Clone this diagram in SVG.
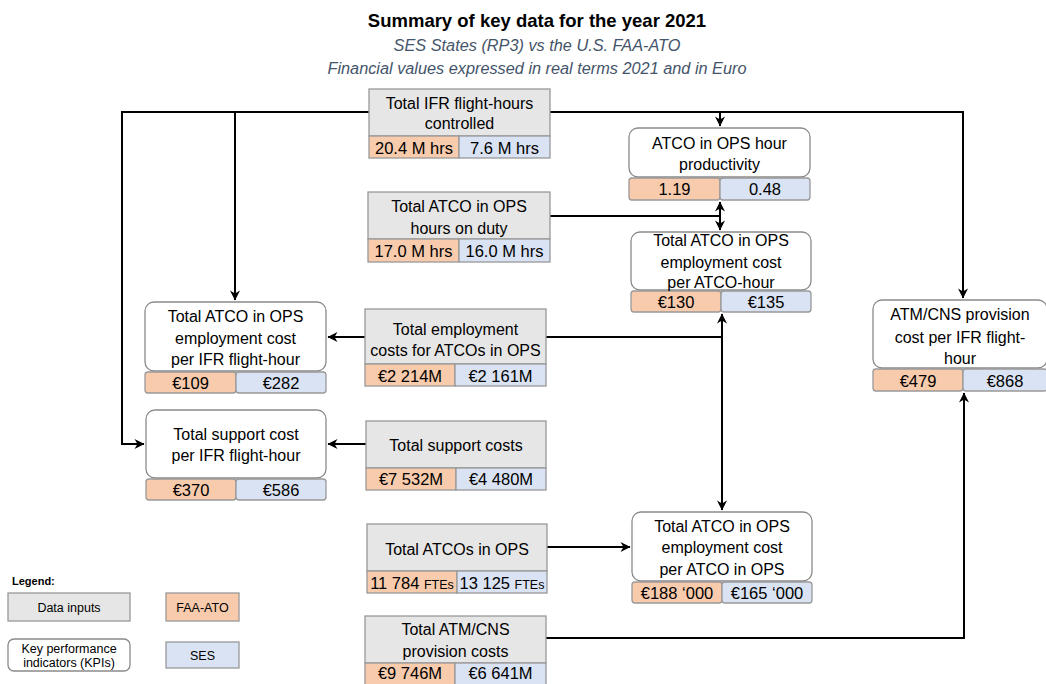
<svg xmlns="http://www.w3.org/2000/svg" width="1046" height="684" viewBox="0 0 1046 684">
<style>
.din{fill:#E7E6E6;stroke:#999;stroke-width:1.3}
.faa{fill:#F8CBAD;stroke:#999;stroke-width:1.3}
.ses{fill:#DAE3F3;stroke:#999;stroke-width:1.3}
.kpi{fill:#fff;stroke:#8a8a8a;stroke-width:1.3}
.t{font-family:"Liberation Sans",Arial,sans-serif;font-size:16px;text-anchor:middle;fill:#000}
.v{font-size:16.5px}
.s{font-size:12.5px}
.lg{font-family:"Liberation Sans",Arial,sans-serif;font-size:12.5px;text-anchor:middle;fill:#000}
.title{font-family:"Liberation Sans",Arial,sans-serif;font-size:18.5px;font-weight:bold;text-anchor:middle;fill:#000}
.sub{font-family:"Liberation Sans",Arial,sans-serif;font-size:16.3px;font-style:italic;text-anchor:middle;fill:#44546A}
.ln{fill:none;stroke:#000;stroke-width:2}
.arr{marker-end:url(#ah)}
</style>
<defs>
<marker id="ah" viewBox="0 0 10 10" refX="9.5" refY="5" markerUnits="userSpaceOnUse" markerWidth="11" markerHeight="10" orient="auto">
<path d="M0,0 L10,5 L0,10 L3,5 z" fill="#000"/>
</marker>
</defs>
<rect width="1046" height="684" fill="#fff"/>
<g id="title">
<text class="title" x="537" y="27">Summary of key data for the year 2021</text>
<text class="sub" x="537" y="51">SES States (RP3) vs the U.S. FAA-ATO</text>
<text class="sub" x="537" y="74">Financial values expressed in real terms 2021 and in Euro</text>
</g>
<g id="connectors">
<path class="ln arr" d="M369,112 H122 V444 H144"/>
<path class="ln arr" d="M235,112 V300"/>
<path class="ln arr" d="M550,112 H963 V298"/>
<path class="ln arr" d="M720,112 V126"/>
<path class="ln arr" d="M550,216 H720 V202"/>
<path class="ln arr" d="M720,216 V230"/>
<path class="ln arr" d="M365,337 H328"/>
<path class="ln arr" d="M546,337 H722 V314"/>
<path class="ln arr" d="M722,337 V510"/>
<path class="ln arr" d="M366,444 H328"/>
<path class="ln arr" d="M547,547 H630"/>
<path class="ln arr" d="M546,638 H964 V393"/>
</g>
<g id="n-ifr-hours">
<rect class="din" x="369" y="89" width="181" height="47"/>
<rect class="faa" x="369" y="136" width="90" height="22"/>
<rect class="ses" x="459" y="136" width="91" height="22"/>
<text class="t" x="459.5" y="108.5">Total IFR flight-hours</text>
<text class="t" x="459.5" y="128.5">controlled</text>
<text class="t v" x="414" y="153.5">20.4 M hrs</text>
<text class="t v" x="504.5" y="153.5">7.6 M hrs</text>
</g>
<g id="n-atco-hours">
<rect class="din" x="368" y="192" width="182" height="47"/>
<rect class="faa" x="368" y="239" width="91" height="23"/>
<rect class="ses" x="459" y="239" width="91" height="23"/>
<text class="t" x="459" y="211.5">Total ATCO in OPS</text>
<text class="t" x="459" y="233.5">hours on duty</text>
<text class="t v" x="413.5" y="256.5">17.0 M hrs</text>
<text class="t v" x="504.5" y="256.5">16.0 M hrs</text>
</g>
<g id="n-emp-costs">
<rect class="din" x="365" y="309" width="181" height="55"/>
<rect class="faa" x="365" y="364" width="90" height="22"/>
<rect class="ses" x="455" y="364" width="91" height="22"/>
<text class="t" x="455.5" y="334.5">Total employment</text>
<text class="t" x="455.5" y="355.5">costs for ATCOs in OPS</text>
<text class="t v" x="410" y="381.5">€2 214M</text>
<text class="t v" x="500.5" y="381.5">€2 161M</text>
</g>
<g id="n-support-costs">
<rect class="din" x="366" y="421" width="180" height="47"/>
<rect class="faa" x="366" y="468" width="90" height="22"/>
<rect class="ses" x="456" y="468" width="90" height="22"/>
<text class="t" x="456" y="450.5">Total support costs</text>
<text class="t v" x="411" y="485">€7 532M</text>
<text class="t v" x="501" y="485">€4 480M</text>
</g>
<g id="n-atcos">
<rect class="din" x="367" y="524" width="180" height="47"/>
<rect class="faa" x="367" y="571" width="90" height="22"/>
<rect class="ses" x="457" y="571" width="90" height="22"/>
<text class="t" x="457" y="554.5">Total ATCOs in OPS</text>
<text class="t v" x="412" y="588.5">11 784 <tspan class="s">FTEs</tspan></text>
<text class="t v" x="502" y="588.5">13 125 <tspan class="s">FTEs</tspan></text>
</g>
<g id="n-atm-costs">
<rect class="din" x="365" y="616" width="181" height="47"/>
<rect class="faa" x="365" y="663" width="90" height="22"/>
<rect class="ses" x="455" y="663" width="91" height="22"/>
<text class="t" x="455.5" y="634.5">Total ATM/CNS</text>
<text class="t" x="455.5" y="656.5">provision costs</text>
<text class="t v" x="410" y="679">€9 746M</text>
<text class="t v" x="500.5" y="679">€6 641M</text>
</g>
<g id="k-productivity">
<rect class="kpi" x="629" y="128" width="181" height="49" rx="9"/>
<rect class="faa" x="629" y="178" width="91" height="22" rx="3"/>
<rect class="ses" x="720" y="178" width="90" height="22" rx="3"/>
<text class="t" x="719.5" y="148.5">ATCO in OPS hour</text>
<text class="t" x="719.5" y="169.5">productivity</text>
<text class="t v" x="674.5" y="195">1.19</text>
<text class="t v" x="765" y="195">0.48</text>
</g>
<g id="k-cost-per-atco-hour">
<rect class="kpi" x="631" y="232" width="180" height="58" rx="9"/>
<rect class="faa" x="631" y="291" width="90" height="21" rx="3"/>
<rect class="ses" x="721" y="291" width="90" height="21" rx="3"/>
<text class="t" x="721" y="245.5">Total ATCO in OPS</text>
<text class="t" x="721" y="267.5">employment cost</text>
<text class="t" x="721" y="287.5">per ATCO-hour</text>
<text class="t v" x="676" y="308">€130</text>
<text class="t v" x="766" y="308">€135</text>
</g>
<g id="k-emp-cost-per-ifr">
<rect class="kpi" x="145" y="302" width="181" height="69" rx="9"/>
<rect class="faa" x="145" y="372" width="91" height="21" rx="3"/>
<rect class="ses" x="236" y="372" width="90" height="21" rx="3"/>
<text class="t" x="235.5" y="321.5">Total ATCO in OPS</text>
<text class="t" x="235.5" y="343.5">employment cost</text>
<text class="t" x="235.5" y="364.5">per IFR flight-hour</text>
<text class="t v" x="190.5" y="389">€109</text>
<text class="t v" x="281" y="389">€282</text>
</g>
<g id="k-support-per-ifr">
<rect class="kpi" x="146" y="410" width="180" height="68" rx="9"/>
<rect class="faa" x="146" y="479" width="90" height="21" rx="3"/>
<rect class="ses" x="236" y="479" width="90" height="21" rx="3"/>
<text class="t" x="236" y="439.5">Total support cost</text>
<text class="t" x="236" y="460.5">per IFR flight-hour</text>
<text class="t v" x="191" y="496">€370</text>
<text class="t v" x="281" y="496">€586</text>
</g>
<g id="k-cost-per-atco">
<rect class="kpi" x="632" y="512" width="180" height="69" rx="9"/>
<rect class="faa" x="632" y="582" width="90" height="21" rx="3"/>
<rect class="ses" x="722" y="582" width="90" height="21" rx="3"/>
<text class="t" x="722" y="531.5">Total ATCO in OPS</text>
<text class="t" x="722" y="552.5">employment cost</text>
<text class="t" x="722" y="574.5">per ATCO in OPS</text>
<text class="t v" x="677" y="599">€188 ‘000</text>
<text class="t v" x="767" y="599">€165 ‘000</text>
</g>
<g id="k-atm-per-ifr">
<rect class="kpi" x="873" y="300" width="174" height="68" rx="9"/>
<rect class="faa" x="873" y="369" width="90" height="22" rx="3"/>
<rect class="ses" x="963" y="369" width="84" height="22" rx="3"/>
<text class="t" x="960" y="319.5">ATM/CNS provision</text>
<text class="t" x="960" y="342.5">cost per IFR flight-</text>
<text class="t" x="960" y="363.5">hour</text>
<text class="t v" x="918" y="387">€479</text>
<text class="t v" x="1005" y="387">€868</text>
</g>
<g id="legend">
<text x="12" y="585" style="font-family:'Liberation Sans',Arial,sans-serif;font-size:11px;font-weight:bold">Legend:</text>
<rect class="din" x="8" y="593" width="122" height="28"/>
<text class="lg" x="69" y="611.5">Data inputs</text>
<rect class="faa" x="166" y="593" width="73" height="28"/>
<text class="lg" x="202.5" y="611.5">FAA-ATO</text>
<rect class="kpi" x="8" y="639" width="122" height="32" rx="6"/>
<text class="lg" x="69" y="652.5">Key performance</text>
<text class="lg" x="69" y="666.5">indicators (KPIs)</text>
<rect class="ses" x="166" y="642" width="73" height="26"/>
<text class="lg" x="202.5" y="659.5">SES</text>
</g>
</svg>
